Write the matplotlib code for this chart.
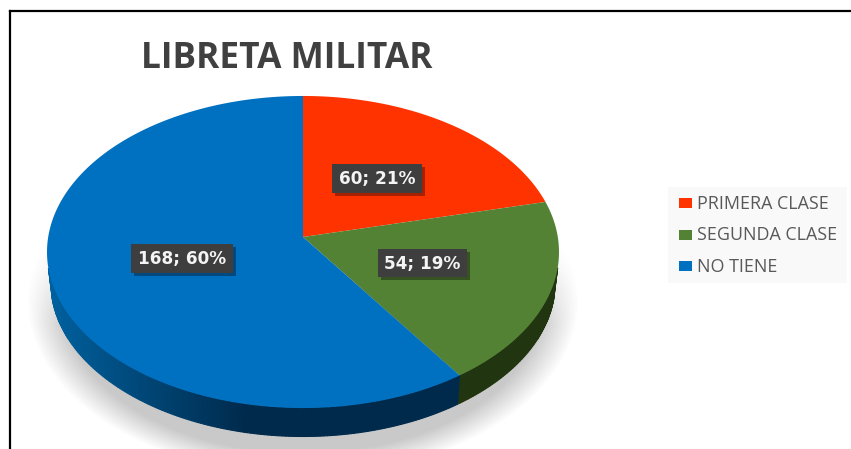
import numpy as np
import matplotlib
matplotlib.use("Agg")
import matplotlib.pyplot as plt
from matplotlib.patches import Rectangle

title = "LIBRETA MILITAR"
categories = ["PRIMERA CLASE", "SEGUNDA CLASE", "NO TIENE"]
values = [60, 54, 168]
percents = [21, 19, 60]
colors = ["#FF3300", "#548235", "#0070C0"]
label_boxes = [(332, 164, 90, 29), (378, 249, 89, 28), (131, 244, 102, 29)]

W, H = 851, 449
cx, cy = 303, 237
a, b, k = 254.8, 154.6, 0.0962
depth = 31


def project(theta, scale=1.0, shift=0.0):
    # theta clockwise from 12 o'clock, slight perspective on the disc
    u, v = np.sin(theta), np.cos(theta)
    w = 1 + k * v
    return cx + scale * a * u / w, cy - scale * b * v / w + shift


plt.rcParams["font.family"] = ["Open Sans", "DejaVu Sans"]
fig = plt.figure(figsize=(W / 100, H / 100), dpi=100)
ax = fig.add_axes([0, 0, 1, 1])
ax.set_xlim(0, W)
ax.set_ylim(H, 0)
ax.axis("off")

# soft shadow under the pie
xx, yy = np.meshgrid(np.arange(W) + 0.5, np.arange(H) + 0.5)
dist = np.sqrt(((xx - 303) / 276) ** 2 + ((yy - 300) / 176) ** 2)
shade = np.clip((1.0 - dist) / 0.13, 0, 1) * np.clip((yy - 240) / 85, 0, 1) * 0.28
rgba = np.zeros((H, W, 4))
rgba[..., :3] = 0.25
rgba[..., 3] = shade
ax.imshow(rgba, extent=(0, W, H, 0), aspect="auto", zorder=1)

# slice angles
fracs = np.array(values) / sum(values)
edges = np.concatenate([[0], np.cumsum(fracs)]) * 2 * np.pi

# side wall, only the front of the disc shows
wall_left = "#00619F"
wall_dark = "#002A4C"
for i in range(len(values)):
    t = np.linspace(edges[i], edges[i + 1], max(2, int((edges[i + 1] - edges[i]) * 80)))
    for t0, t1 in zip(t[:-1], t[1:]):
        if np.cos(t0) > -0.2 and np.cos(t1) > -0.2:
            continue
        x0, y0 = project(t0)
        x1, y1 = project(t1)
        x2, y2 = project(t1, 0.985, depth)
        x3, y3 = project(t0, 0.985, depth)
        if i == 2:
            f = np.clip((x0 - 47) / 200, 0, 1)
            c0 = np.array(matplotlib.colors.to_rgb(wall_left))
            c1 = np.array(matplotlib.colors.to_rgb(wall_dark))
            col = tuple(c0 + (c1 - c0) * f)
        else:
            col = "#203510"
        ax.fill([x0, x1, x2, x3], [y0, y1, y2, y3], color=col, lw=0.8, zorder=2)

# top face
for i in range(len(values)):
    t = np.linspace(edges[i], edges[i + 1], 200)
    x, y = project(t)
    ax.fill(np.r_[cx, x], np.r_[cy, y], color=colors[i], lw=0, zorder=3)

# data labels
for i in range(len(values)):
    x0, y0, w, h = label_boxes[i]
    ax.add_patch(Rectangle((x0 + 3, y0 + 3), w, h, color="black", alpha=0.35, lw=0, zorder=4))
    ax.add_patch(Rectangle((x0, y0), w, h, color="#3E3E3E", lw=0, zorder=5))
    ax.text(x0 + w / 2, y0 + h / 2 - 1, f"{values[i]}; {percents[i]}%", color="#F4F4F4",
            fontsize=12.2, fontweight="bold", family=["DejaVu Sans"],
            ha="center", va="center_baseline", zorder=6)

ax.text(287, 54, title, color="#404040", fontsize=25.4, fontweight="bold",
        ha="center", va="center_baseline", zorder=6)

# legend
ax.add_patch(Rectangle((668, 187), 179, 96, color="#F9F9F9", lw=0, zorder=1))
legend_y = [203, 234.5, 266]
for i in range(len(categories)):
    ax.add_patch(Rectangle((679, legend_y[i] - 5), 13, 10, color=colors[i], lw=0, zorder=2))
    ax.text(697, legend_y[i] - 1, categories[i], color="#595959", fontsize=12.9,
            ha="left", va="center_baseline", zorder=3)

# frame of the screenshot
ax.plot([10, 10], [H, 11], color="black", lw=1.6, zorder=7, solid_joinstyle="miter")
ax.plot([10, W], [11, 11], color="black", lw=1.6, zorder=7, solid_joinstyle="miter")

fig.savefig("out.png", dpi=100)
